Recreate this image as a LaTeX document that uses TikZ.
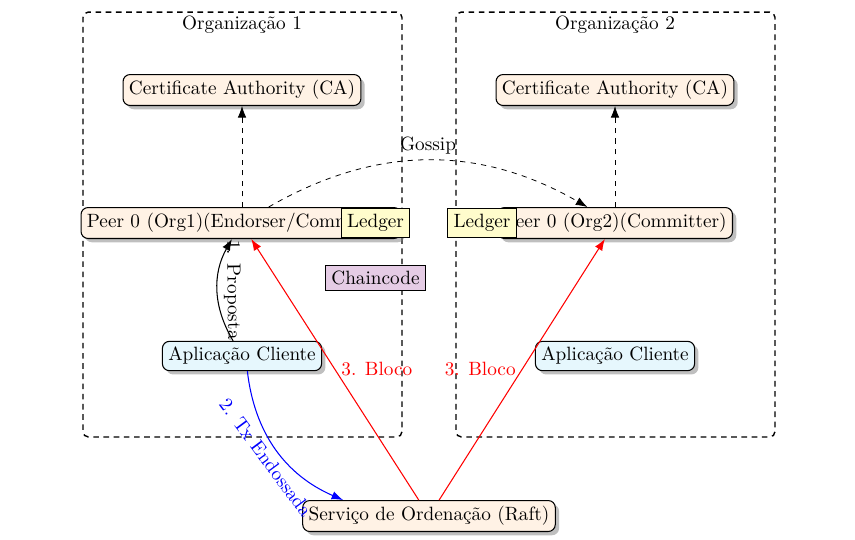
\documentclass[tikz,border=0pt]{standalone}
\usetikzlibrary{shadows,arrows.meta}
\begin{document}
\begin{tikzpicture}[x=0.02cm,y=-0.02cm,semithick,
  every node/.style={font=\fontsize{10.95}{13.6}\selectfont},
  orgbox/.style={draw,thick,dash pattern=on 3.2pt off 2.6pt,rounded corners=3pt,minimum width=6.38cm,minimum height=8.5cm,inner sep=0pt},
  comp/.style={draw,rounded corners=4pt,fill=orange!10,drop shadow},
  appbox/.style={draw,rounded corners=4pt,fill=cyan!10,drop shadow},
  ledger/.style={draw,fill=yellow!20},
  cc/.style={draw,fill=violet!20},
  arr/.style={-{Latex[length=2.3mm,width=1.7mm]}},
  thinarr/.style={arr,line width=0.45pt,dashed}]
\useasboundingbox (0,0) rectangle (855,539);
\node[orgbox] (org1) at (242.5,224.5) {};
\node[orgbox] (org2) at (615.5,224.5) {};
\node (lbl1) at (242,25) {Organização 1};
\node (lbl2) at (615,25) {Organização 2};
\node[comp] (ca1) at (242,90) {Certificate Authority (CA)};
\node[comp] (ca2) at (615,90) {Certificate Authority (CA)};
\node[comp] (peer1) at (241,223) {Peer 0 (Org1)(Endorser/Committer)};
\node[comp] (peer2) at (615,223) {Peer 0 (Org2)(Committer)};
\node[ledger] (led1) at (375.5,223) {Ledger};
\node[ledger] (led2) at (482,223) {Ledger};
\node[cc] (cc) at (375.5,278) {Chaincode};
\node[appbox] (app1) at (242,356) {Aplicação Cliente};
\node[appbox] (app2) at (615,356) {Aplicação Cliente};
\node[comp] (ord) at (429,516) {Serviço de Ordenação (Raft)};
\draw[thinarr] (ca1.south |- peer1.north) -- (ca1.south);
\draw[thinarr] (peer2.north) -- (ca2.south);
\draw[thinarr] (peer1) to[bend left=30] node[above] {Gossip} (peer2);
\draw[arr] (app1) to[bend left=30] node[midway,sloped,above] {1. Proposta} (peer1);
\draw[arr,blue] (app1) to[bend right=30] node[midway,sloped,below] {2. Tx Endossada} (ord);
\draw[arr,red] (ord) -- node[midway,right] {3. Bloco} (peer1);
\draw[arr,red] (ord) -- node[midway,left] {3. Bloco} (peer2);
\end{tikzpicture}
\end{document}
